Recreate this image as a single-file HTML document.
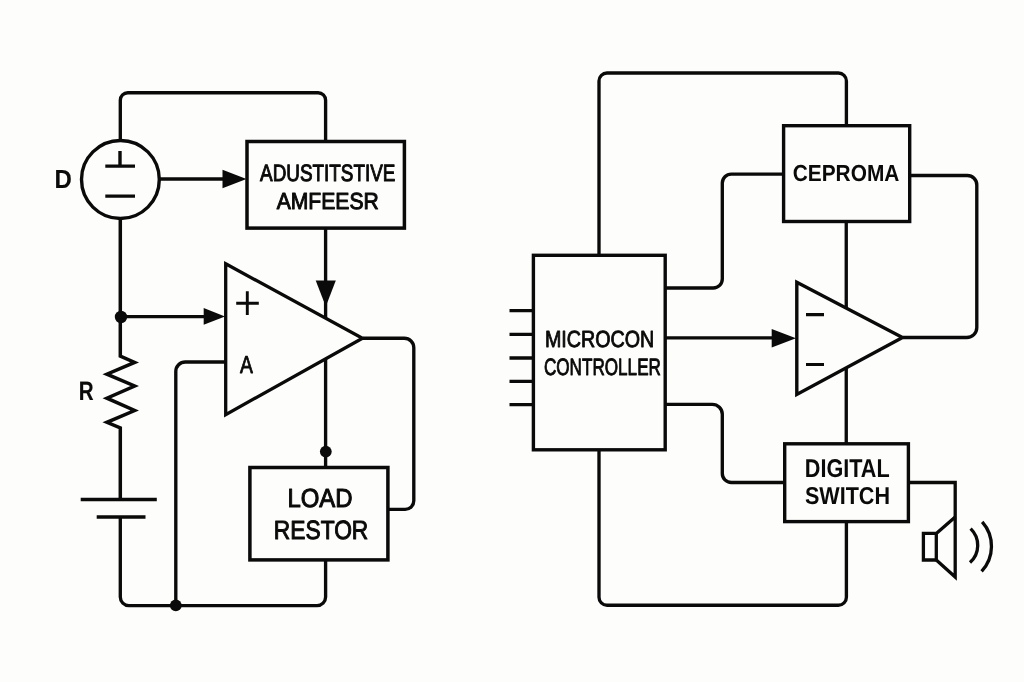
<!DOCTYPE html>
<html>
<head>
<meta charset="utf-8">
<title>Circuit block diagram</title>
<style>
html,body{margin:0;padding:0;background:#fdfdfb;}
body{width:1024px;height:682px;overflow:hidden;}
svg{display:block;will-change:transform;}
.w{fill:none;stroke:#0a0a0a;stroke-width:3.35;stroke-linejoin:round;stroke-linecap:butt;}
.m{fill:none;stroke:#0a0a0a;stroke-width:3.35;stroke-linejoin:miter;stroke-linecap:butt;}
.b{fill:#fdfdfb;stroke:#0a0a0a;stroke-width:3.5;stroke-linejoin:miter;}
.k{fill:#0a0a0a;stroke:none;}
text{font-family:"Liberation Sans","DejaVu Sans",sans-serif;fill:#0a0a0a;font-weight:bold;text-rendering:geometricPrecision;}
</style>
</head>
<body>
<svg width="1024" height="682" viewBox="0 0 1024 682">
<rect x="0" y="0" width="1024" height="682" fill="#fdfdfb"/>

<!-- LEFT CIRCUIT -->
<g id="left">
  <!-- outer loop -->
  <path class="w" d="M120.3 141 V100.2 A7.5 7.5 0 0 1 127.8 92.7 H318.1 A7.5 7.5 0 0 1 325.6 100.2 V141"/>
  <path class="m" d="M120.3 217 V356.2 L134.6 362.4 L106.9 374.2 L134.6 386 L106.9 398.2 L134.6 410.5 L106.9 422.3 L120.3 428 V499.5" style="stroke-width:3.5;stroke-miterlimit:10"/>
  <path class="w" d="M120.3 517 V597 A8.6 8.6 0 0 0 128.9 605.6 H317 A8.6 8.6 0 0 0 325.6 597 V559"/>
  <!-- source circle -->
  <ellipse class="w" cx="120.4" cy="179.5" rx="38.9" ry="39" style="stroke-width:3.4"/>
  <path class="m" d="M105.3 166.1 H135 M120 151 V166.1 M105.3 196.1 H135" style="stroke-width:3.4"/>
  <text x="54.60" y="187.78" font-size="26.09" textLength="17.33" lengthAdjust="spacingAndGlyphs" style="stroke:#0a0a0a;stroke-width:0.1;stroke-linejoin:round;">D</text>
  <!-- arrow to box -->
  <path class="w" d="M159 179 H226"/>
  <path class="k" d="M222.5 169.8 L246.5 179 L222.5 188.2 Z"/>
  <!-- box 1 -->
  <rect class="b" x="247" y="141.5" width="157.4" height="86.6"/>
  <text x="260.08" y="181.17" font-size="23.74" textLength="135.33" lengthAdjust="spacingAndGlyphs" style="font-weight:normal;stroke:#0a0a0a;stroke-width:1;stroke-linejoin:round;">ADUSTITSTIVE</text>
  <text x="276.66" y="209.12" font-size="23.22" textLength="102.19" lengthAdjust="spacingAndGlyphs" style="font-weight:normal;stroke:#0a0a0a;stroke-width:1;stroke-linejoin:round;">AMFEESR</text>
  <!-- down arrow -->
  <path class="w" d="M325.6 228 V284 M325.6 300 V320"/>
  <path class="k" d="M315.7 280.4 L335.8 280.4 L325.8 306.5 Z"/>
  <!-- opamp -->
  <path class="w" d="M325.6 356 V466"/>
  <path class="b" d="M225.7 263.8 L362.5 338.2 L225.7 414.6 Z" style="stroke-miterlimit:10;stroke-width:3.3"/>
  <path class="m" d="M236.2 303.3 H258.8 M247.3 291.3 V315" style="stroke-width:2.9"/>
  <text x="240.11" y="373.17" font-size="24.66" textLength="12.87" lengthAdjust="spacingAndGlyphs" style="font-weight:normal;stroke:#0a0a0a;stroke-width:0.8;stroke-linejoin:round;">A</text>
  <!-- input arrow -->
  <circle class="k" cx="121" cy="317" r="6.2"/>
  <path class="w" d="M120.3 316.6 H208"/>
  <path class="k" d="M203.7 308 L225 316.4 L203.7 324.8 Z"/>
  <!-- feedback -->
  <path class="w" d="M226 362 H185.3 A9.5 9.5 0 0 0 175.8 371.5 V605.6"/>
  <circle class="k" cx="175.8" cy="605.3" r="5.9"/>
  <text x="78.81" y="399.93" font-size="26.42" textLength="14.86" lengthAdjust="spacingAndGlyphs" style="stroke:#0a0a0a;stroke-width:0.15;stroke-linejoin:round;">R</text>
  <!-- battery -->
  <path class="m" d="M80.7 499.5 H156.8 M96.7 517 H145.5" style="stroke-width:3.4"/>
  <!-- load box -->
  <circle class="k" cx="325.8" cy="451.6" r="5.9"/>
  <rect class="b" x="249.9" y="467.5" width="138" height="92.4"/>
  <text x="287.38" y="507.01" font-size="26.19" textLength="65.15" lengthAdjust="spacingAndGlyphs" style="font-weight:normal;stroke:#0a0a0a;stroke-width:1;stroke-linejoin:round;">LOAD</text>
  <text x="273.79" y="538.57" font-size="26.33" textLength="94.55" lengthAdjust="spacingAndGlyphs" style="font-weight:normal;stroke:#0a0a0a;stroke-width:1;stroke-linejoin:round;">RESTOR</text>
  <!-- output loop -->
  <path class="w" d="M363 338.2 H404.3 A9.5 9.5 0 0 1 413.8 347.7 V500.8 A8.5 8.5 0 0 1 405.3 509.3 H388"/>
</g>

<!-- RIGHT CIRCUIT -->
<g id="right">
  <path class="w" d="M599 256 V81 A8 8 0 0 1 607 73 H838.4 A8 8 0 0 1 846.4 81 V126"/>
  <path class="w" d="M599 449 V597.2 A8 8 0 0 0 607 605.2 H838.4 A8 8 0 0 0 846.4 597.2 V521"/>
  <path class="w" d="M846.25 221 V444"/>
  <!-- micro -->
  <rect class="b" x="533.4" y="255.3" width="131.8" height="194.5" style="stroke-width:3.4"/>
  <path class="m" d="M509.5 310.6 H533 M509.5 334.4 H533 M509.5 358 H533 M509.5 381.3 H533 M509.5 404.6 H533" style="stroke-width:3.3"/>
  <text x="544.98" y="347.24" font-size="23.37" textLength="109.30" lengthAdjust="spacingAndGlyphs" style="font-weight:normal;stroke:#0a0a0a;stroke-width:0.9;stroke-linejoin:round;">MICROCON</text>
  <text x="543.93" y="375.35" font-size="23.68" textLength="117.00" lengthAdjust="spacingAndGlyphs" style="font-weight:normal;stroke:#0a0a0a;stroke-width:0.9;stroke-linejoin:round;">CONTROLLER</text>
  <!-- eprom -->
  <rect class="b" x="783.6" y="125.7" width="126.1" height="95.8" style="stroke-width:3.4"/>
  <text x="792.76" y="181.02" font-size="23.12" textLength="106.58" lengthAdjust="spacingAndGlyphs">CEPROMA</text>
  <path class="w" d="M665 288 H713.3 A9 9 0 0 0 722.3 279 V183.1 A9 9 0 0 1 731.3 174.1 H784"/>
  <path class="w" d="M909 175.5 H967.3 A9.5 9.5 0 0 1 976.8 185 V327.5 A10 10 0 0 1 966.8 337.5 H903"/>
  <!-- opamp -->
  <path class="b" d="M796.8 282.2 L902.5 337.6 L796.8 394.4 Z" style="stroke-miterlimit:10;stroke-width:3.4"/>
  <path class="m" d="M806 314.6 H824 M806 364.5 H824" style="stroke-width:3.1"/>
  <path class="w" d="M665 337.8 H775"/>
  <path class="k" d="M771.7 328.9 L796 338.2 L771.7 347.5 Z"/>
  <!-- digital switch -->
  <path class="w" d="M665 404.3 H712.3 A10 10 0 0 1 722.3 414.3 V473.5 A9 9 0 0 0 731.3 482.5 H784"/>
  <rect class="b" x="784.7" y="443.8" width="123.7" height="77.8" style="stroke-width:3.4"/>
  <text x="804.79" y="476.70" font-size="25.73" textLength="84.89" lengthAdjust="spacingAndGlyphs">DIGITAL</text>
  <text x="804.93" y="503.93" font-size="24.42" textLength="85.06" lengthAdjust="spacingAndGlyphs">SWITCH</text>
  <!-- speaker -->
  <path class="m" d="M908 482.5 H955.2 V577 L936.3 560" style="stroke-width:3.3;stroke-miterlimit:10"/>
  <path class="m" d="M923.4 533.4 H936.3 V560 H923.4 Z M936.3 533.4 L955.2 517" style="stroke-width:3.3;stroke-miterlimit:10"/>
  <path class="m" d="M970.6 528.6 A23.2 23.2 0 0 1 970 562.6 M982.2 521.8 A36.8 36.8 0 0 1 981.6 571.3" style="stroke-width:3.3"/>
</g>
</svg>
</body>
</html>
